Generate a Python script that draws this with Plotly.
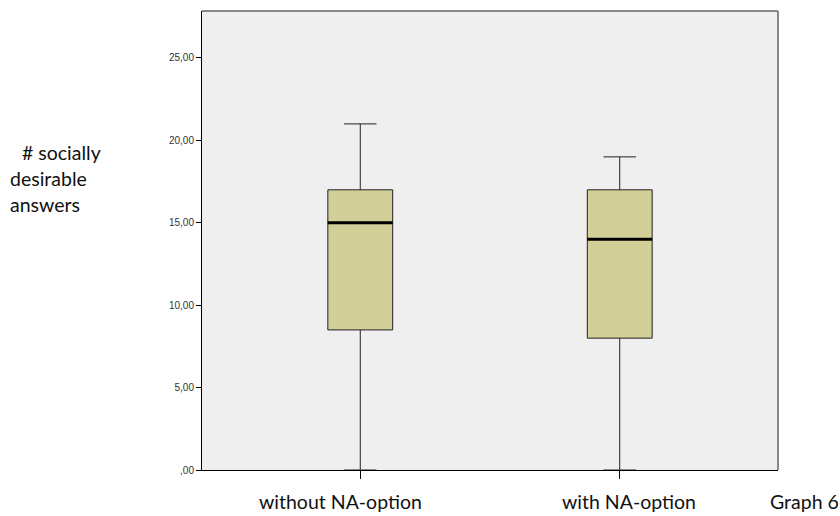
import plotly.graph_objects as go

# Data
categories = ["without NA-option", "with NA-option"]
lower_fence = [0, 0]
q1_vals = [8.5, 8]
median_vals = [15, 14]
q3_vals = [17, 17]
upper_fence = [21, 19]
y_tick_vals = [0, 5, 10, 15, 20, 25]
y_tick_text = [",00", "5,00", "10,00", "15,00", "20,00", "25,00"]
y_title_lines = ["# socially", "desirable", "answers"]
graph_label = "Graph 6"

BOX_W = 0.25
FILL = "#D3CF98"

fig = go.Figure()
for i, cat in enumerate(categories):
    fig.add_trace(go.Box(
        x=[i], q1=[q1_vals[i]], median=[median_vals[i]], q3=[q3_vals[i]],
        lowerfence=[lower_fence[i]], upperfence=[upper_fence[i]],
        name=cat, width=BOX_W, whiskerwidth=0.5,
        fillcolor=FILL, line=dict(color="#222222", width=1),
        boxpoints=False, showlegend=False, hoverinfo="skip",
    ))
    # thick median line
    fig.add_trace(go.Scatter(
        x=[i - BOX_W / 2, i + BOX_W / 2], y=[median_vals[i], median_vals[i]],
        mode="lines", line=dict(color="black", width=3),
        showlegend=False, hoverinfo="skip",
    ))

fig.update_layout(
    width=840, height=516,
    margin=dict(l=202, r=62, t=11, b=46),
    paper_bgcolor="white", plot_bgcolor="#EFEFEF",
    font=dict(family="Liberation Sans, Arial, sans-serif", color="#222222"),
    showlegend=False,
)
fig.update_xaxes(
    range=[-0.61, 1.61], tickvals=[0, 1], ticktext=["", ""],
    showgrid=False, zeroline=False,
    showline=True, linecolor="black", linewidth=1,
    ticks="outside", ticklen=8, tickcolor="black", tickwidth=1,
)
fig.update_yaxes(
    range=[0, 27.85], tickvals=y_tick_vals, ticktext=y_tick_text,
    showgrid=False, zeroline=False,
    showline=True, linecolor="black", linewidth=1,
    ticks="outside", ticklen=5, tickcolor="black", tickwidth=1,
    tickfont=dict(size=10, color="#333333", family="Liberation Sans, Arial, sans-serif"),
)

# top/right border in gray
fig.add_shape(type="line", xref="paper", yref="paper", x0=0, x1=1, y0=1, y1=1,
              line=dict(color="#888888", width=2))
fig.add_shape(type="line", xref="paper", yref="paper", x0=1, x1=1, y0=0, y1=1,
              line=dict(color="#888888", width=2))

txt_font = dict(family="Lato, Open Sans, sans-serif", size=19.5, color="#111111")
# category labels (offset as in the reference)
label_offsets = [-0.077, 0.034]
for i, cat in enumerate(categories):
    fig.add_annotation(x=i + label_offsets[i], y=0, xref="x", yref="paper",
                       yshift=-31, text=cat, showarrow=False, font=txt_font,
                       xanchor="center", yanchor="middle")

fig.add_annotation(x=1, y=0, xref="paper", yref="paper", yshift=-31, xshift=-10,
                   text=graph_label, showarrow=False, font=txt_font,
                   xanchor="left", yanchor="middle")

title_indent = [12, 0, 0]
for k, line in enumerate(y_title_lines):
    fig.add_annotation(x=0, y=1, xref="paper", yref="paper",
                       xshift=-202 + 8 + title_indent[k], yshift=-141 - 26 * k,
                       text=line, showarrow=False, font=txt_font,
                       xanchor="left", yanchor="middle", align="left")

fig.write_html(
    "out.html",
    config={"displayModeBar": False},
    post_script="document.body.style.margin='0';document.body.style.overflow='hidden';",
)
